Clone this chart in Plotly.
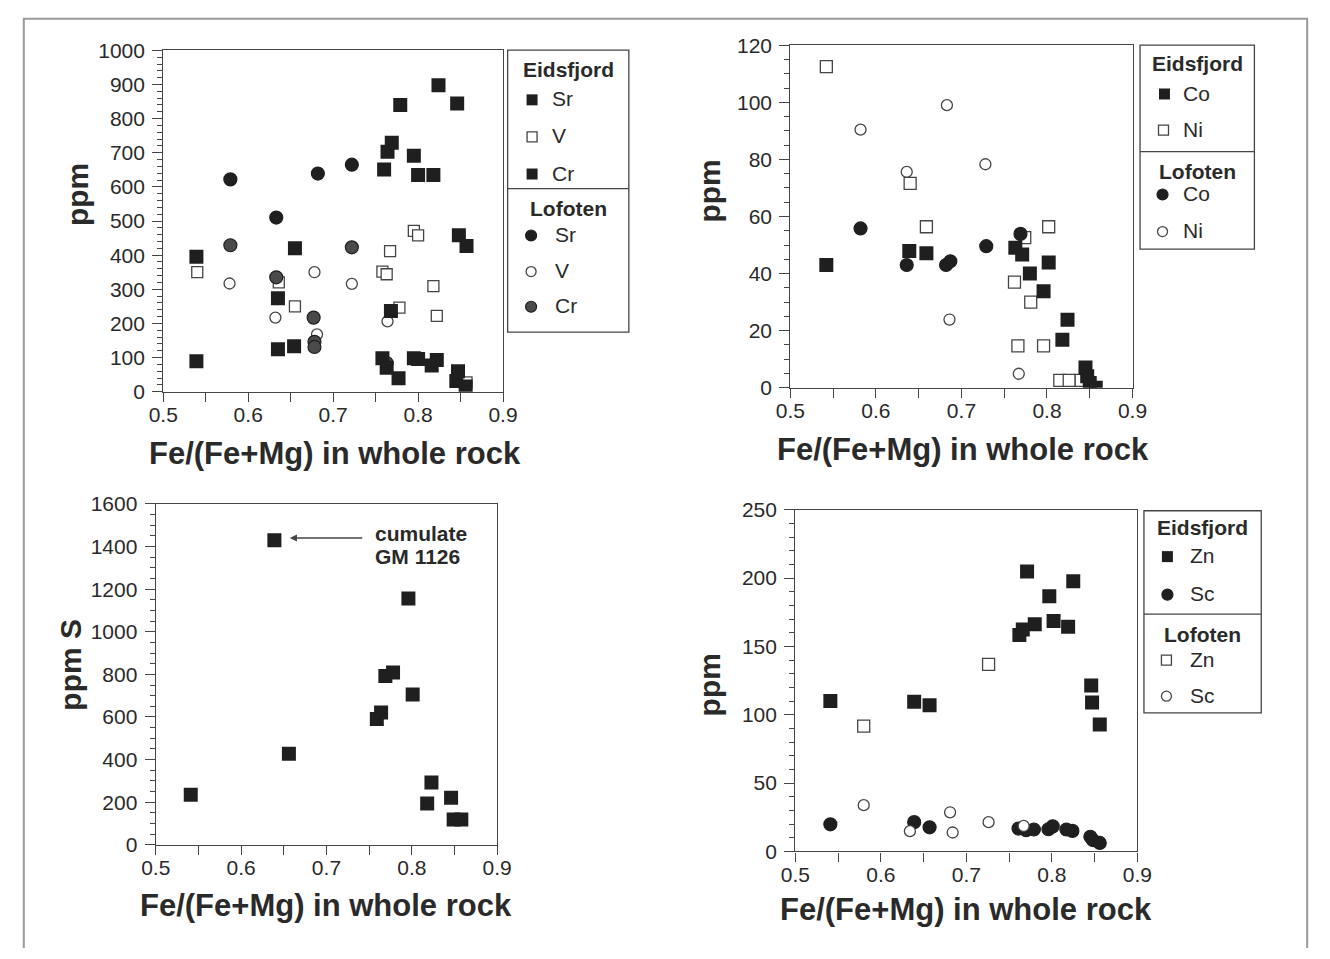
import plotly.graph_objects as go

W, H = 1330, 959

# ---------------- data ----------------
# Panel 1: Sr, V, Cr (ppm)
p1_eid_sr_x = [0.539, 0.635, 0.655, 0.760, 0.764, 0.768, 0.769, 0.779, 0.795, 0.800, 0.818, 0.824, 0.846, 0.848, 0.857]
p1_eid_sr_y = [395, 274, 420, 651, 703, 236, 729, 840, 691, 635, 635, 898, 844, 458, 427]
p1_eid_v_x = [0.540, 0.636, 0.655, 0.767, 0.758, 0.763, 0.795, 0.800, 0.818, 0.822, 0.778, 0.857]
p1_eid_v_y = [350, 320, 250, 412, 352, 344, 471, 458, 309, 222, 246, 27]
p1_eid_cr_x = [0.539, 0.635, 0.654, 0.758, 0.763, 0.777, 0.795, 0.800, 0.816, 0.822, 0.847, 0.845, 0.856]
p1_eid_cr_y = [89, 124, 133, 98, 70, 39, 98, 96, 77, 93, 60, 31, 15]
p1_lof_sr_x = [0.579, 0.633, 0.682, 0.722]
p1_lof_sr_y = [622, 510, 639, 665]
p1_lof_v_x = [0.578, 0.632, 0.678, 0.681, 0.722, 0.764]
p1_lof_v_y = [317, 217, 350, 168, 316, 206]
p1_lof_cr_x = [0.579, 0.633, 0.677, 0.678, 0.678, 0.722, 0.763]
p1_lof_cr_y = [429, 335, 217, 146, 131, 423, 84]

# Panel 2: Co, Ni (ppm)
p2_eid_co_x = [0.542, 0.639, 0.659, 0.763, 0.771, 0.802, 0.780, 0.796, 0.824, 0.818, 0.845, 0.847, 0.850, 0.857]
p2_eid_co_y = [43.0, 47.9, 47.1, 49.0, 46.7, 43.9, 40.0, 33.8, 23.8, 16.8, 7.1, 4.0, 1.7, 0.0]
p2_eid_ni_x = [0.542, 0.640, 0.659, 0.774, 0.802, 0.762, 0.781, 0.766, 0.796, 0.815, 0.826, 0.840]
p2_eid_ni_y = [112.5, 71.6, 56.4, 52.6, 56.4, 37.0, 30.0, 14.7, 14.7, 2.6, 2.6, 2.6]
p2_lof_co_x = [0.582, 0.636, 0.682, 0.687, 0.729, 0.769]
p2_lof_co_y = [55.8, 43.0, 43.0, 44.3, 49.6, 53.9]
p2_lof_ni_x = [0.582, 0.683, 0.636, 0.728, 0.686, 0.767]
p2_lof_ni_y = [90.4, 99.0, 75.6, 78.3, 23.9, 4.9]

# Panel 3: S (ppm), Eidsfjord
p3_s_x = [0.541, 0.639, 0.656, 0.759, 0.764, 0.769, 0.778, 0.796, 0.801, 0.818, 0.823, 0.846, 0.849, 0.858]
p3_s_y = [235, 1430, 427, 591, 621, 792, 809, 1156, 705, 194, 293, 221, 119, 119]
p3_note_x = 0.657
p3_note_y = 1440

# Panel 4: Zn, Sc (ppm)
p4_eid_zn_x = [0.541, 0.639, 0.657, 0.771, 0.825, 0.797, 0.802, 0.819, 0.780, 0.766, 0.762, 0.846, 0.847, 0.856]
p4_eid_zn_y = [110, 109.5, 107, 204.8, 197.6, 186.7, 168.6, 164.3, 166.2, 162.4, 158.3, 121.4, 109, 92.9]
p4_eid_sc_x = [0.541, 0.639, 0.657, 0.761, 0.770, 0.779, 0.796, 0.801, 0.817, 0.824, 0.845, 0.848, 0.856]
p4_eid_sc_y = [19.8, 21.4, 17.6, 16.7, 15.5, 16.0, 16.2, 18.3, 16.0, 15.0, 10.7, 8.3, 6.2]
p4_lof_zn_x = [0.580, 0.726]
p4_lof_zn_y = [91.7, 136.9]
p4_lof_sc_x = [0.580, 0.634, 0.681, 0.684, 0.726, 0.767]
p4_lof_sc_y = [33.8, 14.8, 28.6, 13.8, 21.4, 18.6]

x_title = "Fe/(Fe+Mg) in whole rock"

# ---------------- styles ----------------
DARK = "#1f1f1f"
LINE = "#454545"
TXT = "#2a2a2a"
FONT = "Liberation Sans, Arial, sans-serif"

def fsq(size=14):
    return dict(symbol="square", size=size, color=DARK, line=dict(width=0))

def osq(size=11):
    return dict(symbol="square", size=size, color="white", line=dict(width=1.3, color=LINE))

def fci(size=13, col=DARK):
    return dict(symbol="circle", size=size, color=col, line=dict(width=1.2, color=DARK))

def oci(size=11):
    return dict(symbol="circle", size=size, color="white", line=dict(width=1.3, color=LINE))

GRAYC = "#4a4a4a"

def px_x(x):
    return x / W

def px_y(y):
    return 1 - y / H

fig = go.Figure()

def add(xs, ys, marker, ax):
    fig.add_trace(go.Scatter(x=xs, y=ys, mode="markers", marker=marker,
                             xaxis="x" + ax, yaxis="y" + ax, showlegend=False,
                             hoverinfo="x+y"))

# panel 1
add(p1_lof_v_x, p1_lof_v_y, oci(), "")
add(p1_eid_v_x, p1_eid_v_y, osq(), "")
add(p1_lof_cr_x, p1_lof_cr_y, fci(13, GRAYC), "")
add(p1_lof_sr_x, p1_lof_sr_y, fci(13), "")
add(p1_eid_cr_x, p1_eid_cr_y, fsq(14), "")
add(p1_eid_sr_x, p1_eid_sr_y, fsq(14), "")
# panel 2
add(p2_lof_ni_x, p2_lof_ni_y, oci(), "2")
add(p2_eid_ni_x, p2_eid_ni_y, osq(12), "2")
add(p2_lof_co_x, p2_lof_co_y, fci(13), "2")
add(p2_eid_co_x, p2_eid_co_y, fsq(14), "2")
# panel 3
add(p3_s_x, p3_s_y, fsq(14), "3")
# panel 4
add(p4_lof_zn_x, p4_lof_zn_y, osq(12), "4")
add(p4_eid_sc_x, p4_eid_sc_y, fci(13), "4")
add(p4_eid_zn_x, p4_eid_zn_y, fsq(14), "4")
add(p4_lof_sc_x, p4_lof_sc_y, oci(), "4")

# ---------------- axes ----------------
boxes = {
    "1": (151.7, 499.3, 39.3, 389.0),
    "2": (793.3, 1143.3, 34.0, 385.0),
    "3": (144.0, 493.3, 504.0, 853.3),
    "4": (798.3, 1148.3, 510.0, 860.0),
}
yspec = {
    "1": (1000, 100, 20),
    "2": (120, 20, 5),
    "3": (1600, 200, 50),
    "4": (250, 50, 10),
}

axcommon = dict(showline=True, linecolor=LINE, linewidth=1.3, mirror=True,
                showgrid=False, zeroline=False, ticks="outside", tickcolor=LINE,
                tickfont=dict(family=FONT, size=21, color=TXT))

layout = dict(width=W, height=H, margin=dict(l=0, r=0, t=0, b=0),
              paper_bgcolor="white", plot_bgcolor="rgba(0,0,0,0)", showlegend=False)

for k, (x0, x1, y0, y1) in boxes.items():
    suf = "" if k == "1" else k
    ymax, ydt, ymin = yspec[k]
    layout["xaxis" + suf] = dict(axcommon, domain=[px_x(x0), px_x(x1)], range=[0.5, 0.9],
                                 anchor="y" + suf, tick0=0.5, dtick=0.1, ticklen=9, tickwidth=1.3,
                                 tickformat=".1f", ticklabelstandoff=-5,
                                 minor=dict(dtick=0.05, ticklen=9, tickcolor=LINE, ticks="outside", tickwidth=1.3))
    layout["yaxis" + suf] = dict(axcommon, domain=[px_y(y1), px_y(y0)], range=[0, ymax],
                                 anchor="x" + suf, tick0=0, dtick=ydt, ticklen=10, tickwidth=1.3,
                                 ticklabelstandoff=3,
                                 minor=dict(dtick=ymin, ticklen=5, tickcolor=LINE, ticks="outside", tickwidth=1.1))

# overlay pixel axis for legend keys
layout["xaxis5"] = dict(domain=[0, 1], range=[0, W], visible=False, anchor="y5", fixedrange=True)
layout["yaxis5"] = dict(domain=[0, 1], range=[H, 0], visible=False, anchor="x5", fixedrange=True)

fig.update_layout(**layout)

annotations = []
shapes = []

def txt(x, y, s, size=20, bold=False, xanchor="center", angle=0):
    annotations.append(dict(x=px_x(x), y=px_y(y), xref="paper", yref="paper", text=("<b>%s</b>" % s) if bold else s,
                            showarrow=False, xanchor=xanchor, yanchor="middle", textangle=angle,
                            font=dict(family=FONT, size=size, color=TXT)))

# axis titles
for (cx, cy) in [(327, 452), (970, 448), (318, 915), (973, 920)]:
    txt(cx, cy, x_title, size=31, bold=True)
txt(64, 187, "ppm", size=30, bold=True, angle=-90)
txt(711, 183, "ppm", size=30, bold=True, angle=-90)
txt(57, 669, "ppm S", size=30, bold=True, angle=-90)
txt(711, 689, "ppm", size=30, bold=True, angle=-90)

# legend boxes
def legend(box, divider, title1, title2, t1y, t2y, items):
    x0, x1, y0, y1 = box
    shapes.append(dict(type="rect", xref="paper", yref="paper", x0=px_x(x0), x1=px_x(x1),
                       y0=px_y(y1), y1=px_y(y0), line=dict(color=LINE, width=1.3)))
    shapes.append(dict(type="line", xref="paper", yref="paper", x0=px_x(x0), x1=px_x(x1),
                       y0=px_y(divider), y1=px_y(divider), line=dict(color=LINE, width=1.3)))
    cx = (x0 + x1) / 2
    txt(cx, t1y, title1, size=21, bold=True)
    txt(cx, t2y, title2, size=21, bold=True)
    for (mx, my, marker, label, lx) in items:
        fig.add_trace(go.Scatter(x=[mx], y=[my], mode="markers", marker=marker,
                                 xaxis="x5", yaxis="y5", showlegend=False, hoverinfo="skip"))
        txt(lx, my - 1, label, size=21, xanchor="left")

legend((504, 628, 39, 328), 181, "Eidsfjord", "Lofoten", 59, 201,
       [(529, 90, fsq(11), "Sr", 547),
        (529, 128, osq(10), "V", 547),
        (529, 166, fsq(11), "Cr", 547),
        (528, 229, fci(11), "Sr", 550),
        (528, 266, oci(10), "V", 550),
        (528, 302, fci(11, GRAYC), "Cr", 550)])

legend((1151, 1268, 34, 243), 143, "Eidsfjord", "Lofoten", 53, 163,
       [(1176, 84, fsq(11), "Co", 1193),
        (1175, 121, osq(10), "Ni", 1193),
        (1174, 187, fci(11), "Co", 1193),
        (1174, 225, oci(10), "Ni", 1193)])

legend((1155, 1275, 511, 718), 617, "Eidsfjord", "Lofoten", 528, 638,
       [(1179, 558, fsq(11), "Zn", 1200),
        (1179, 597, fci(11), "Sc", 1200),
        (1178, 664, osq(10), "Zn", 1200),
        (1178, 701, oci(10), "Sc", 1200)])

# panel 3 note
annotations.append(dict(x=p3_note_x, y=p3_note_y, xref="x3", yref="y3", text="", showarrow=True,
                        ax=74, ay=0, arrowhead=2, arrowsize=1.1, arrowwidth=1.3, arrowcolor=LINE,
                        standoff=0))
txt(366, 534, "cumulate", size=21, bold=True, xanchor="left")
txt(366, 558, "GM 1126", size=21, bold=True, xanchor="left")

# outer page frame (left, top, right edges; bottom edge lies outside the picture)
shapes.append(dict(type="path", xref="paper", yref="paper",
                   path="M %f,%f L %f,%f L %f,%f L %f,%f" % (px_x(9), px_y(H), px_x(9), px_y(7),
                                                             px_x(1322), px_y(7), px_x(1322), px_y(H)),
                   line=dict(color="#9a9a9a", width=2)))

fig.update_layout(annotations=annotations, shapes=shapes)
fig.write_html("out.html")
